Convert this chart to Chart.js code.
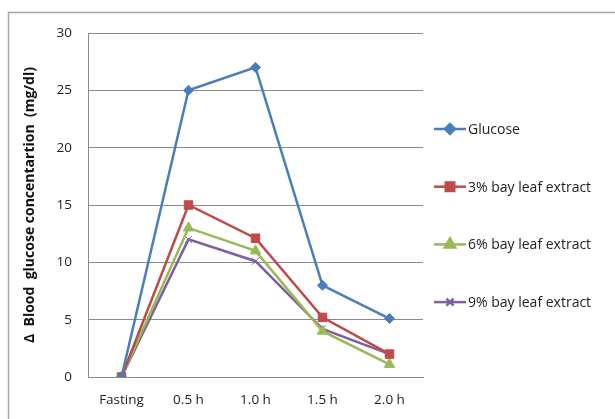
<!DOCTYPE html>
<html>
<head>
<meta charset="utf-8">
<script src="https://cdn.jsdelivr.net/npm/chart.js@4"></script>
<style>
  html, body { margin: 0; padding: 0; background: #fff; }
  #wrap { width: 615px; height: 419px; position: relative; }
</style>
</head>
<body>
<div id="wrap"><canvas id="chartGlucose"></canvas></div>
<script>
const times = ['Fasting', '0.5 h', '1.0 h', '1.5 h', '2.0 h'];
const glucose = [0, 25, 27, 8, 5.1];
const bay3 = [0, 15, 12.1, 5.2, 2];
const bay6 = [0, 13, 11, 4, 1.1];
const bay9 = [0, 12, 10.1, 4.2, 2];
const seriesNames = ['Glucose', '3% bay leaf extract', '6% bay leaf extract', '9% bay leaf extract'];
const yTitle = 'Δ  Blood  glucose concentartion  (mg/dl)';

const fontName = '"Open Sans", "Liberation Sans", sans-serif';
const gridColor = '#8a8a8a';

function makeSet(label, values, color, shape, radius) {
  return {
    label: label,
    data: values,
    borderColor: color,
    backgroundColor: color,
    borderWidth: 2.5,
    pointStyle: shape,
    pointRadius: radius,
    pointHoverRadius: radius,
    pointBorderWidth: 1,
    tension: 0
  };
}

// frame round the chart, like the original picture
const framePlugin = {
  id: 'frame',
  beforeDraw(chart) {
    const ctx = chart.ctx;
    ctx.save();
    ctx.strokeStyle = '#a6a6a6';
    ctx.lineWidth = 1.5;
    ctx.strokeRect(8.5, 12.5, 800, 600);
    ctx.restore();
  }
};

// legend with line + marker, drawn at the right
const sideLegend = {
  id: 'sideLegend',
  afterDraw(chart) {
    const ctx = chart.ctx;
    ctx.save();
    chart.data.datasets.forEach(function(ds, i) {
      const y = 129 + i * 57.7;
      ctx.strokeStyle = ds.borderColor;
      ctx.lineWidth = 2.5;
      ctx.beginPath();
      ctx.moveTo(434, y);
      ctx.lineTo(466, y);
      ctx.stroke();
      ctx.fillStyle = ds.backgroundColor;
      Chart.helpers.drawPoint(ctx, {
        pointStyle: ds.pointStyle,
        radius: ds.pointRadius,
        borderWidth: 1,
        rotation: 0
      }, 450, y);
      ctx.fillStyle = '#222';
      ctx.font = '14px ' + fontName;
      ctx.textBaseline = 'middle';
      ctx.fillText(ds.label, 468, y + 1);
    });
    ctx.restore();
  }
};

new Chart(document.getElementById('chartGlucose'), {
  type: 'line',
  data: {
    labels: times,
    datasets: [
      makeSet(seriesNames[0], glucose, '#4a7ebb', 'rectRot', 5),
      makeSet(seriesNames[1], bay3, '#be4b48', 'rect', 6),
      makeSet(seriesNames[2], bay6, '#98b954', 'triangle', 6),
      makeSet(seriesNames[3], bay9, '#7d60a0', 'crossRot', 5)
    ]
  },
  options: {
    responsive: true,
    maintainAspectRatio: false,
    animation: false,
    layout: { padding: { left: 8, top: 33, right: 192, bottom: 0 } },
    plugins: {
      legend: { display: false },
      tooltip: { enabled: false }
    },
    scales: {
      x: {
        offset: true,
        grid: { display: false, drawTicks: false },
        border: { color: gridColor, width: 1 },
        ticks: { color: '#222', padding: 15, font: { family: fontName, size: 13.5 } },
        afterFit(scale) { scale.height = 42; }
      },
      y: {
        min: 0,
        max: 30,
        grid: { color: gridColor, lineWidth: 1, drawTicks: false },
        border: { color: gridColor, width: 1 },
        ticks: { stepSize: 5, color: '#222', padding: 16, font: { family: fontName, size: 13.5 } },
        title: {
          display: true,
          text: yTitle,
          color: '#111',
          padding: { top: 14, bottom: 0 },
          font: { family: fontName, size: 14, weight: 'bold' }
        },
        afterFit(scale) { scale.width = 80; }
      }
    }
  },
  plugins: [framePlugin, sideLegend]
});
</script>
</body>
</html>
